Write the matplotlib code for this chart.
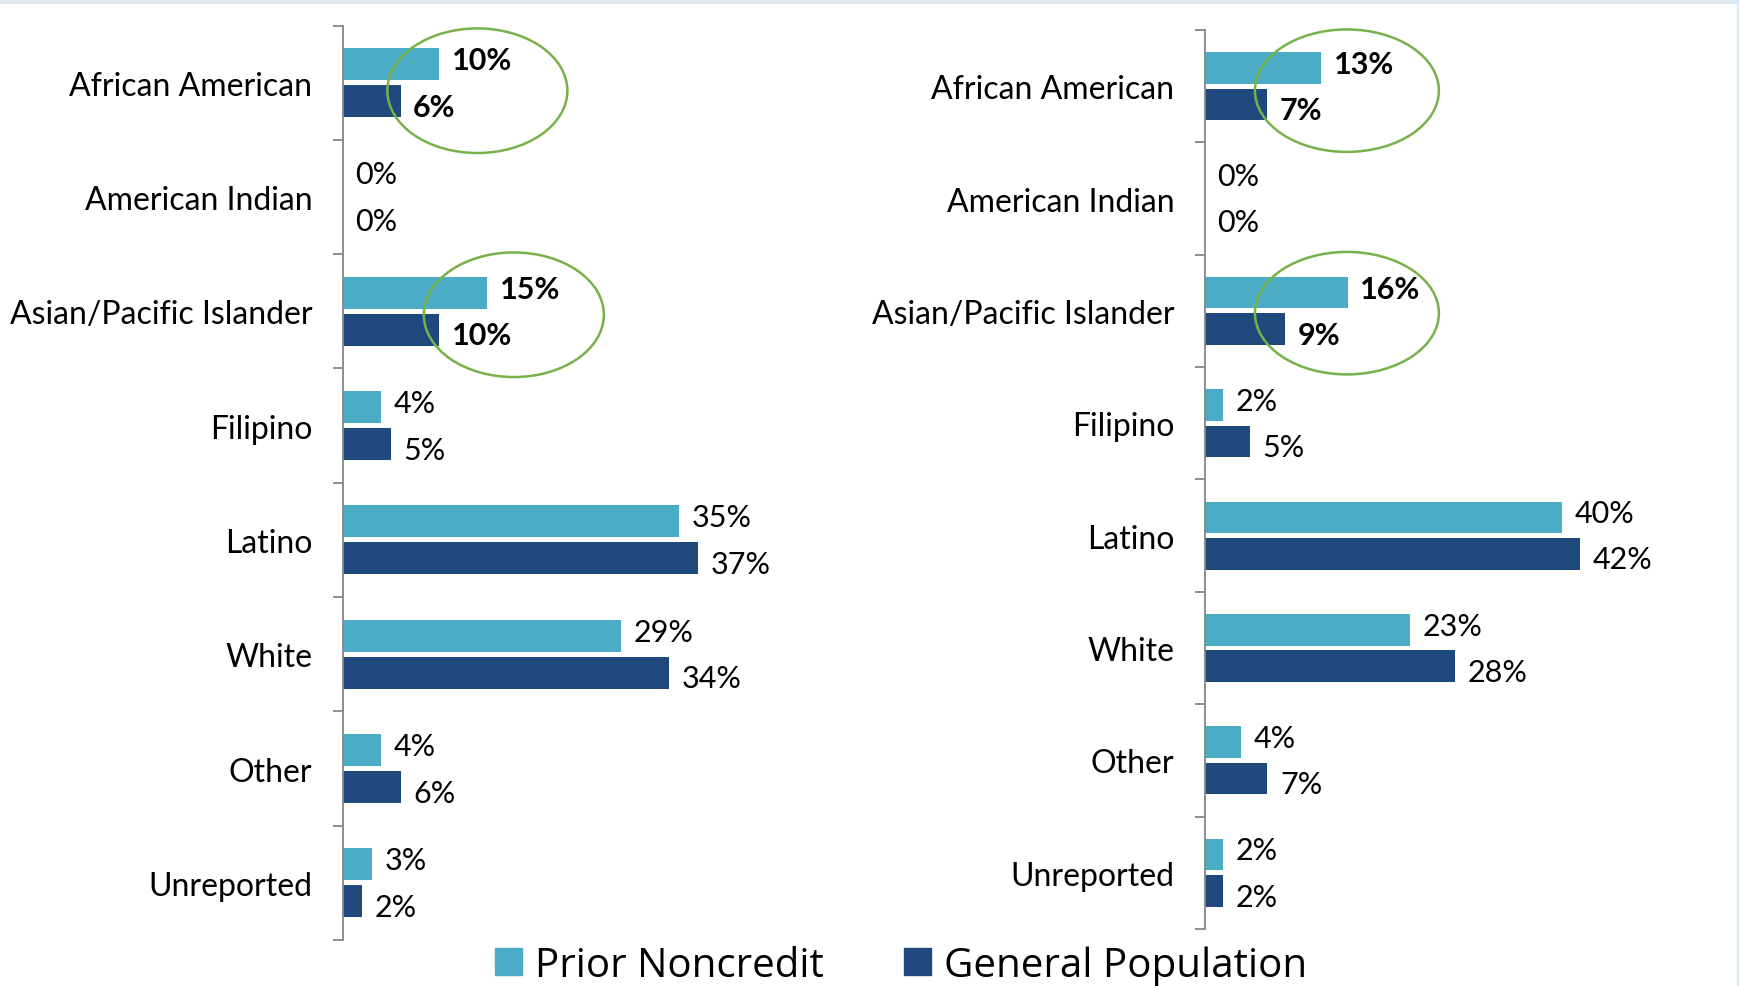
import numpy as np
import matplotlib.pyplot as plt
from matplotlib.patches import Ellipse, Rectangle

plt.rcParams['font.family'] = ['Lato', 'DejaVu Sans']

# datos
categorias = ['African American', 'American Indian', 'Asian/Pacific Islander',
              'Filipino', 'Latino', 'White', 'Other', 'Unreported']
resaltadas = [True, False, True, False, False, False, False, False]

izq_prior = [10, 0, 15, 4, 35, 29, 4, 3]
izq_general = [6, 0, 10, 5, 37, 34, 6, 2]
der_prior = [13, 0, 16, 2, 40, 23, 4, 2]
der_general = [7, 0, 9, 5, 42, 28, 7, 2]

series = ['Prior Noncredit', 'General Population']
color_prior = '#4bacc6'
color_general = '#1f497d'
verde = '#77b149'
gris = '#868686'


def panel(ax, prior, general, xmax, elipses):
    y = np.arange(len(categorias))
    ax.barh(y - 0.162, prior, height=0.28, color=color_prior)
    ax.barh(y + 0.162, general, height=0.28, color=color_general)
    ax.set_xlim(0, xmax)
    ax.set_ylim(len(categorias) - 0.5, -0.5)
    for s in ['top', 'right', 'bottom']:
        ax.spines[s].set_visible(False)
    ax.spines['left'].set_color(gris)
    ax.spines['left'].set_linewidth(1.3)
    ax.set_xticks([])
    ax.set_yticks(y)
    ax.set_yticklabels(categorias, fontsize=23)
    ax.set_yticks(np.arange(len(categorias) + 1) - 0.5, minor=True)
    ax.tick_params(axis='y', which='major', length=0, pad=22)
    ax.tick_params(axis='y', which='minor', length=7, width=1.3, color=gris, direction='out')
    for i in range(len(categorias)):
        peso = 'bold' if resaltadas[i] else 'normal'
        ax.annotate(f'{prior[i]}%', (prior[i], y[i] - 0.162), xytext=(9, 3),
                    textcoords='offset points', va='center', ha='left',
                    fontsize=22, fontweight=peso)
        ax.annotate(f'{general[i]}%', (general[i], y[i] + 0.162), xytext=(9, -4),
                    textcoords='offset points', va='center', ha='left',
                    fontsize=22, fontweight=peso)
    for (cx, cy, w, h) in elipses:
        ax.add_patch(Ellipse((cx, cy), w, h, fill=False, edgecolor=verde,
                             linewidth=1.8, clip_on=False))


fig = plt.figure(figsize=(17.4, 9.87), dpi=100)

ax1 = fig.add_axes([0.1971, 0.0466, 0.2483, 0.9265])
panel(ax1, izq_prior, izq_general, 45,
      [(14.0, 0.07, 18.75, 1.09), (17.8, 2.03, 18.75, 1.09)])

ax2 = fig.add_axes([0.6925, 0.0578, 0.2566, 0.9108])
panel(ax2, der_prior, der_general, 50,
      [(15.9, 0.04, 20.6, 1.09), (15.9, 2.02, 20.6, 1.09)])

# leyenda
manijas = [Rectangle((0, 0), 1, 1, color=color_prior),
           Rectangle((0, 0), 1, 1, color=color_general)]
fig.legend(manijas, series, loc='center', bbox_to_anchor=(0.518, 0.021),
           ncol=2, frameon=False, prop={'family': 'Open Sans', 'size': 29},
           handlelength=0.66, handleheight=0.66, handletextpad=0.33,
           columnspacing=2.0)

# marco celeste arriba y a la derecha
fig.patches.append(Rectangle((0, 0.996), 1, 0.004, transform=fig.transFigure,
                             color='#dfe9f4', zorder=0))
fig.patches.append(Rectangle((0.998, 0), 0.002, 1, transform=fig.transFigure,
                             color='#dfe9f4', zorder=0))

fig.savefig('out.png', dpi=100)
